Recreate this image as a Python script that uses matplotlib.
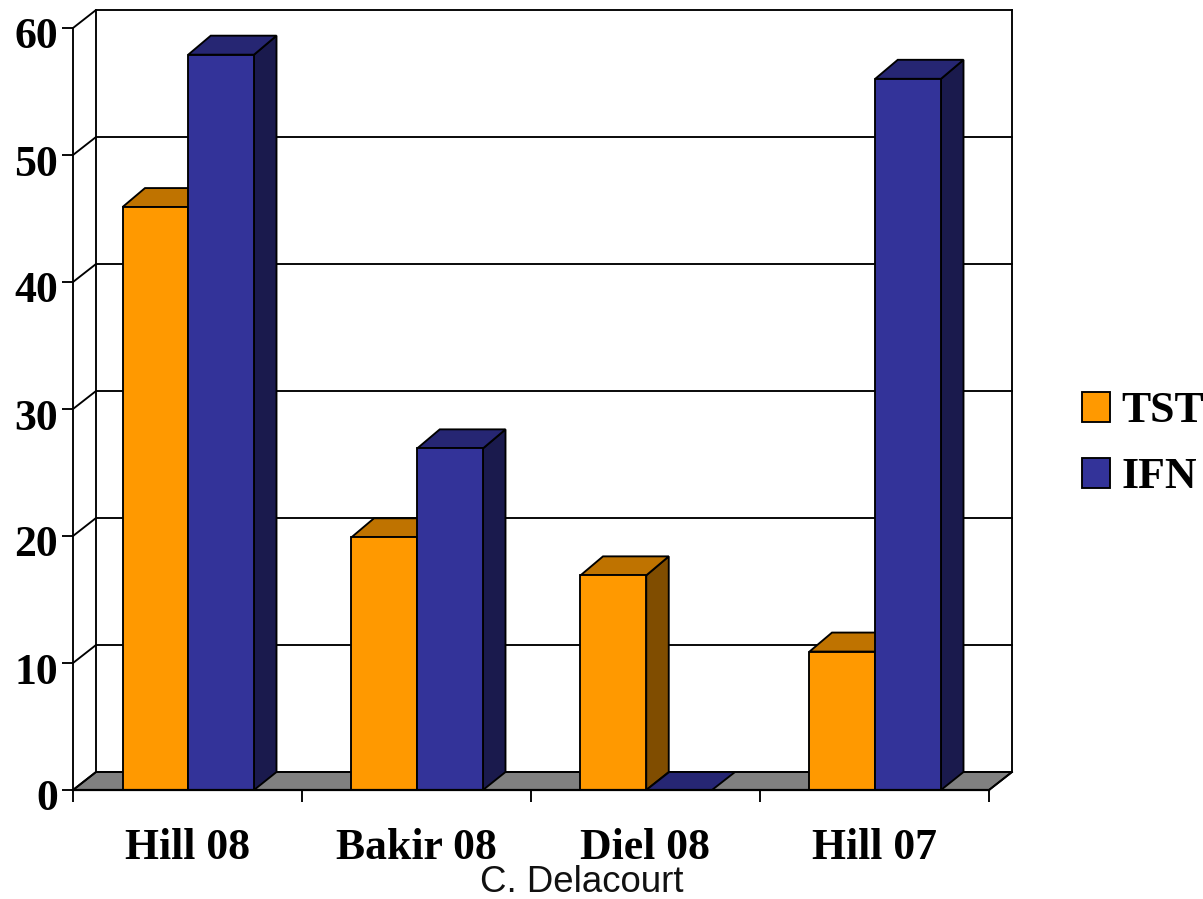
import matplotlib
matplotlib.use("Agg")
import matplotlib.pyplot as plt
from matplotlib.patches import Patch, Polygon
from matplotlib.transforms import ScaledTranslation

studies = ["Hill 08", "Bakir 08", "Diel 08", "Hill 07"]
tst = [45.9, 19.9, 16.9, 10.9]
ifn = [57.9, 26.9, 0, 56]
y_ticks = [0, 10, 20, 30, 40, 50, 60]

W, H = 1203, 899
LEFT, RIGHT, TOP, BOTTOM = 73, 989, 28, 790

# oblique offset of the back wall / bar depth, in data units
WALL_DX = 23 / 229
WALL_DY = 18 / 12.7
BAR_DX = 22.5 / 229
BAR_DY = 19 / 12.7
GAP = 49.5 / 229
BAR_W = 65.75 / 229

ORANGE = ("#FF9900", "#BF7300", "#804D00")
BLUE = ("#333399", "#262673", "#1A1A4D")
LW = 1.35

fig = plt.figure(figsize=(W / 100, H / 100), dpi=100, facecolor="white")
ax = fig.add_axes([LEFT / W, 1 - BOTTOM / H, (RIGHT - LEFT) / W, (BOTTOM - TOP) / H])
ax.set_xlim(0, len(studies))
ax.set_ylim(0, 60)
ax.patch.set_visible(False)


def poly(points, color, z):
    ax.add_patch(Polygon(points, closed=True, facecolor=color, edgecolor="black",
                         linewidth=LW, clip_on=False, zorder=z, joinstyle="miter"))


def line(xs, ys, z=1, lw=LW):
    ax.plot(xs, ys, color="black", linewidth=lw, clip_on=False, zorder=z,
            solid_capstyle="projecting")


def bar(x, value, colors, z):
    x2 = x + BAR_W
    if value > 0:
        poly([(x2, 0), (x2 + BAR_DX, WALL_DY), (x2 + BAR_DX, value + BAR_DY), (x2, value)],
             colors[2], z)
        poly([(x, value), (x + BAR_DX, value + BAR_DY), (x2 + BAR_DX, value + BAR_DY), (x2, value)],
             colors[1], z)
        poly([(x, 0), (x2, 0), (x2, value), (x, value)], colors[0], z)
    else:
        poly([(x, 0), (x + WALL_DX, WALL_DY), (x2 + WALL_DX, WALL_DY), (x2, 0)], BLUE[1], z)


# floor
n = len(studies)
poly([(0, 0), (WALL_DX, WALL_DY), (n + WALL_DX, WALL_DY), (n, 0)], "#808080", 1)

# back wall and side wall with the gridlines
for t in y_ticks:
    line([0, WALL_DX, n + WALL_DX], [t, t + WALL_DY, t + WALL_DY], z=1.5)
line([WALL_DX, WALL_DX], [WALL_DY, 60 + WALL_DY], z=1.5)
line([n + WALL_DX, n + WALL_DX], [WALL_DY, 60 + WALL_DY], z=1.5)
line([n, n + WALL_DX], [0, WALL_DY], z=1.5)

for i in range(n):
    bar(i + GAP, tst[i], ORANGE, 3 + i)
    bar(i + GAP + BAR_W, ifn[i], BLUE, 3.5 + i)

# redraw of the floor's front edge over the bars
line([0, n], [0, 0], z=10, lw=1.6)

for side in ("top", "right"):
    ax.spines[side].set_visible(False)
for side in ("left", "bottom"):
    ax.spines[side].set_linewidth(LW)
    ax.spines[side].set_zorder(10)

serif = ["Liberation Serif", "DejaVu Serif"]
LABEL_SIZE = 31.5

ax.set_yticks(y_ticks)
ax.tick_params(axis="y", length=8, width=LW, pad=3)
for lab in ax.get_yticklabels():
    lab.set_fontfamily(serif)
    lab.set_fontweight("bold")
    lab.set_fontsize(LABEL_SIZE)
    lab.set_transform(lab.get_transform() + ScaledTranslation(0, -5 / 100, fig.dpi_scale_trans))

ax.set_xticks(range(n + 1))
ax.set_xticklabels([])
ax.set_xticks([i + 0.5 for i in range(n)], studies, minor=True)
ax.tick_params(axis="x", which="major", length=8.5, width=LW)
ax.tick_params(axis="x", which="minor", length=0, pad=27.5)
for lab in ax.get_xticklabels(minor=True):
    lab.set_fontfamily(serif)
    lab.set_fontweight("bold")
    lab.set_fontsize(LABEL_SIZE)

handles = [Patch(facecolor=ORANGE[0], edgecolor="black", linewidth=LW, label="TST"),
           Patch(facecolor=BLUE[0], edgecolor="black", linewidth=LW, label="IFN")]
fig.legend(handles=handles, loc="center left", bbox_to_anchor=(1082 / W, 1 - 444 / H),
           frameon=False, handlelength=0.64, handleheight=0.68, handletextpad=0.27,
           labelspacing=0.6, borderpad=0, borderaxespad=0,
           prop={"family": serif, "weight": "bold", "size": LABEL_SIZE})

fig.text(582 / W, 1 - 892 / H, "C. Delacourt", ha="center", va="baseline",
         family="Liberation Sans", fontsize=26.4, color="#111111")

fig.savefig("out.png", dpi=100)
